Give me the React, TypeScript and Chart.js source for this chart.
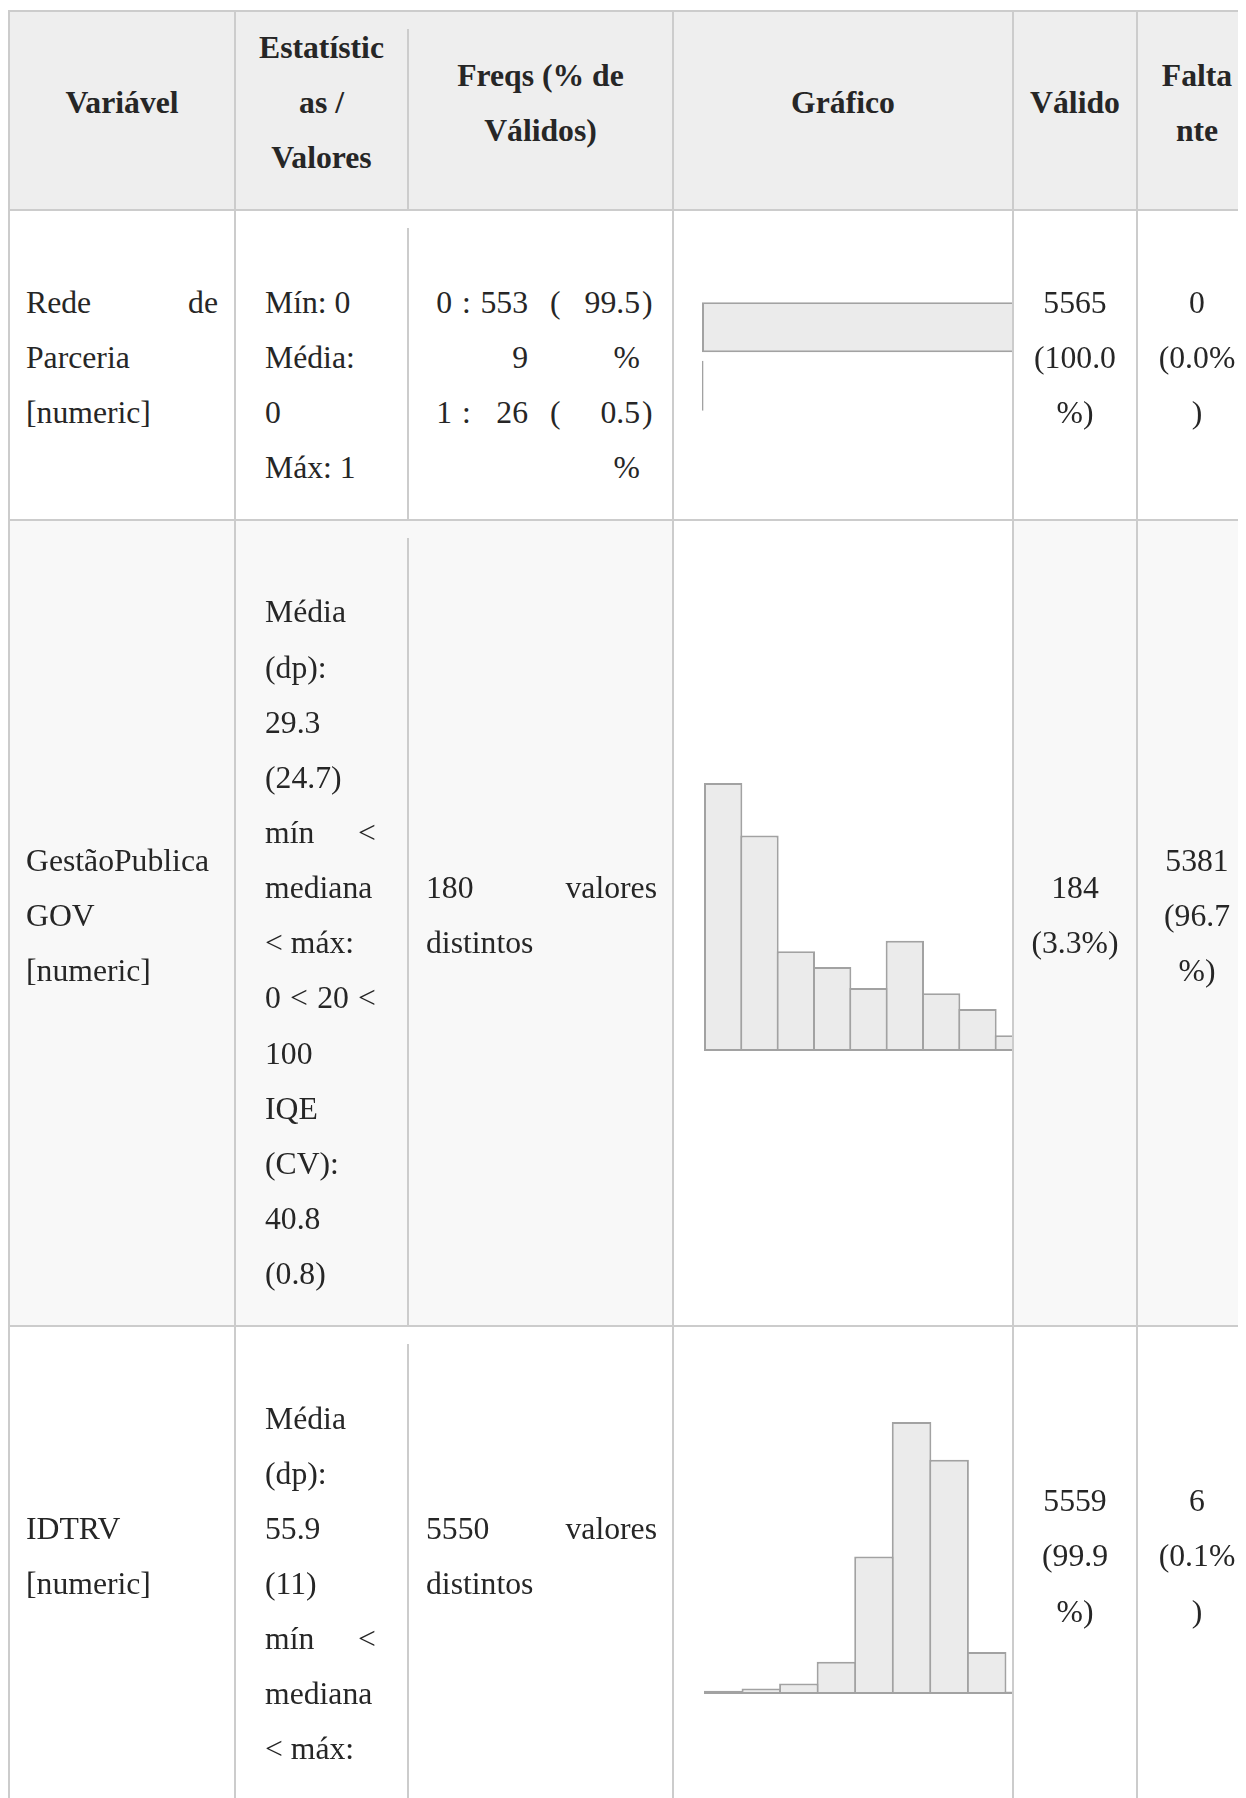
import React, { useEffect, useRef } from 'react';
import { Chart, registerables } from 'chart.js';

Chart.register(...registerables);

// ---------- data ----------
const headers = ['Variável', 'Estatísticas / Valores', 'Freqs (% de Válidos)', 'Gráfico', 'Válido', 'Faltante'];

const variableNames = ['Rede de Parceria [numeric]', 'GestãoPublicaGOV [numeric]', 'IDTRV [numeric]'];

const statsRede = ['Mín: 0', 'Média: 0', 'Máx: 1'];
const statsGestao = ['Média (dp): 29.3 (24.7)', 'mín < mediana < máx:', '0 < 20 < 100', 'IQE (CV): 40.8 (0.8)'];
const statsIdtrv = ['Média (dp): 55.9 (11)', 'mín < mediana < máx:'];

const partnerValues = ['0', '1'];
const partnerCounts = [5539, 26];
const partnerPcts = ['99.5%', '0.5%'];

const distinctGestao = '180 valores distintos';
const distinctIdtrv = '5550 valores distintos';

const gestaoBins = ['0-10', '10-20', '20-30', '30-40', '40-50', '50-60', '60-70', '70-80', '80-90'];
const gestaoCounts = [51, 41, 19, 16, 12, 21, 11, 8, 3];

const idtrvBins = ['0-10', '10-20', '20-30', '30-40', '40-50', '50-60', '60-70', '70-80', '80-90'];
const idtrvCounts = [25, 42, 78, 242, 1034, 2044, 1760, 315, 19];

const validText = ['5565 (100.0%)', '184 (3.3%)', '5559 (99.9%)'];
const missingText = ['0 (0.0%)', '5381 (96.7%)', '6 (0.1%)'];

// ---------- styles ----------
const FONT = '"Liberation Serif", "Times New Roman", Times, serif';
const LINE = 55.15;
const GRID = '#cccccc';
const BORDER = `2px solid ${GRID}`;
const BAR_FILL = '#ebebeb';
const BAR_LINE = '#a2a2a2';
const colWidths = [228, 173, 265, 340, 124, 120];
const rowBg = ['#ffffff', '#f8f8f8', '#ffffff'];

type Pad = { left: number; right: number; top: number; bottom: number };

function MiniBar(props: {
  labels: string[];
  values: number[];
  horizontal: boolean;
  canvasWidth: number;
  height: number;
  pad: Pad;
  barPct: number;
}) {
  const ref = useRef<HTMLCanvasElement | null>(null);
  useEffect(() => {
    const { labels, values, horizontal, pad, barPct } = props;
    const vmax = Math.max(...values);
    const chart = new Chart(ref.current as HTMLCanvasElement, {
      type: 'bar',
      data: {
        labels,
        datasets: [
          {
            data: values,
            backgroundColor: BAR_FILL,
            borderColor: BAR_LINE,
            borderWidth: 2,
            borderSkipped: false,
            barPercentage: barPct,
            categoryPercentage: 1,
            inflateAmount: 0,
            clip: false,
          } as any,
        ],
      },
      options: {
        indexAxis: horizontal ? 'y' : 'x',
        animation: false,
        responsive: false,
        maintainAspectRatio: false,
        events: [],
        layout: { padding: pad },
        plugins: { legend: { display: false }, tooltip: { enabled: false } },
        scales: horizontal
          ? { x: { display: false, min: 0, max: vmax }, y: { display: false } }
          : { x: { display: false }, y: { display: false, min: 0, max: vmax } },
      } as any,
    });
    return () => chart.destroy();
  }, []);
  return (
    <div style={{ width: 338, height: props.height, overflow: 'hidden', background: '#ffffff' }}>
      <canvas
        ref={ref}
        width={props.canvasWidth}
        height={props.height}
        style={{ display: 'block', width: props.canvasWidth, height: props.height }}
      />
    </div>
  );
}

function Lines({ items }: { items: string[] }) {
  return (
    <>
      {items.map((t, i) => (
        <React.Fragment key={i}>
          {t}
          {i < items.length - 1 ? <br /> : null}
        </React.Fragment>
      ))}
    </>
  );
}

function FreqTable() {
  const td = (align: 'left' | 'right', w: number, padLeft = 0): React.CSSProperties => ({
    width: w,
    padding: 0,
    paddingLeft: padLeft,
    border: 'none',
    textAlign: align,
    verticalAlign: 'top',
    overflowWrap: 'anywhere',
  });
  return (
    <table style={{ borderCollapse: 'collapse', tableLayout: 'fixed', width: 231, border: 'none', margin: 0 }}>
      <colgroup>
        <col style={{ width: 26 }} />
        <col style={{ width: 22 }} />
        <col style={{ width: 54 }} />
        <col style={{ width: 50 }} />
        <col style={{ width: 62 }} />
        <col style={{ width: 17 }} />
      </colgroup>
      <tbody>
        {partnerValues.map((v, i) => (
          <tr key={v}>
            <td style={td('right', 26)}>{v}</td>
            <td style={td('left', 22, 10)}>:</td>
            <td style={td('right', 54)}>{partnerCounts[i]}</td>
            <td style={td('left', 50, 22)}>(</td>
            <td style={td('right', 62)}>{partnerPcts[i]}</td>
            <td style={td('left', 17, 2)}>)</td>
          </tr>
        ))}
      </tbody>
    </table>
  );
}

// vertical divider after column 2 drawn as a stripe that starts a little below the cell top
const stripe = (bg: string) =>
  `linear-gradient(${GRID}, ${GRID}) right bottom / 2px calc(100% - 17px) no-repeat, ${bg}`;

export default function App() {
  const base: React.CSSProperties = {
    borderRight: BORDER,
    borderBottom: BORDER,
    verticalAlign: 'middle',
    overflowWrap: 'anywhere',
  };
  const headCell = (i: number): React.CSSProperties => ({
    ...base,
    borderTop: BORDER,
    borderLeft: i === 0 ? BORDER : undefined,
    borderRight: i === 1 ? 'none' : BORDER,
    background: i === 1 ? stripe('#eeeeee') : '#eeeeee',
    fontWeight: 'bold',
    textAlign: 'center',
    padding: i === 5 ? '8px 18px 24px' : i === 4 ? '8px 15.5px 24px' : i === 1 ? '8px 18px 24px 16px' : '8px 16px 24px',
  });
  const bodyCell = (col: number, row: number, extraTop = false): React.CSSProperties => {
    const pads: string[] = [
      '8px 16px 24px 16px',
      `${8 + LINE}px 33px 24px 29px`,
      `${extraTop ? 8 + LINE : 8}px 15px 24px 17px`,
      '8px 0px 24px 0px',
      '8px 15.5px 24px',
      '8px 18px 24px',
    ];
    const bg = col === 3 ? '#ffffff' : rowBg[row];
    return {
      ...base,
      borderLeft: col === 0 ? BORDER : undefined,
      borderRight: col === 1 ? 'none' : BORDER,
      background: col === 1 ? stripe(bg) : bg,
      padding: pads[col],
      textAlign: col <= 2 ? 'justify' : 'center',
    };
  };

  const statsList = [statsRede, statsGestao, statsIdtrv];

  const charts = [
    <MiniBar
      key="c0"
      labels={partnerValues}
      values={partnerCounts}
      horizontal={true}
      canvasWidth={358}
      height={160}
      pad={{ left: 28, right: 0, top: 21, bottom: 22 }}
      barPct={50 / 58.5}
    />,
    <MiniBar
      key="c1"
      labels={gestaoBins}
      values={gestaoCounts}
      horizontal={false}
      canvasWidth={358}
      height={340}
      pad={{ left: 31, right: 0, top: 38, bottom: 34 }}
      barPct={1 + 2 / 36.3}
    />,
    <MiniBar
      key="c2"
      labels={idtrvBins}
      values={idtrvCounts}
      horizontal={false}
      canvasWidth={369}
      height={340}
      pad={{ left: 31, right: 0, top: 36, bottom: 32 }}
      barPct={1 + 2 / 37.5}
    />,
  ];

  const freqCells = [<FreqTable key="f0" />, distinctGestao, distinctIdtrv];

  return (
    <div
      style={{
        width: 1238,
        overflow: 'hidden',
        fontFamily: FONT,
        fontSize: '31.7px',
        lineHeight: `${LINE}px`,
        color: '#262626',
      }}
    >
      <style>{'html,body{overflow:hidden;}'}</style>
      <table
        style={{
          borderCollapse: 'separate',
          borderSpacing: 0,
          tableLayout: 'fixed',
          width: colWidths.reduce((a, b) => a + b, 0),
          marginTop: 2,
        }}
      >
        <colgroup>
          {colWidths.map((w, i) => (
            <col key={i} style={{ width: w }} />
          ))}
        </colgroup>
        <thead>
          <tr>
            {headers.map((h, i) => (
              <th key={h} style={headCell(i)}>
                {h}
              </th>
            ))}
          </tr>
        </thead>
        <tbody>
          {variableNames.map((name, r) => (
            <tr key={name}>
              <td style={bodyCell(0, r)}>{name}</td>
              <td style={bodyCell(1, r)}>
                <Lines items={statsList[r]} />
              </td>
              <td style={bodyCell(2, r, r === 0)}>{freqCells[r]}</td>
              <td style={bodyCell(3, r)}>{charts[r]}</td>
              <td style={bodyCell(4, r)}>{validText[r]}</td>
              <td style={bodyCell(5, r)}>{missingText[r]}</td>
            </tr>
          ))}
        </tbody>
      </table>
    </div>
  );
}
